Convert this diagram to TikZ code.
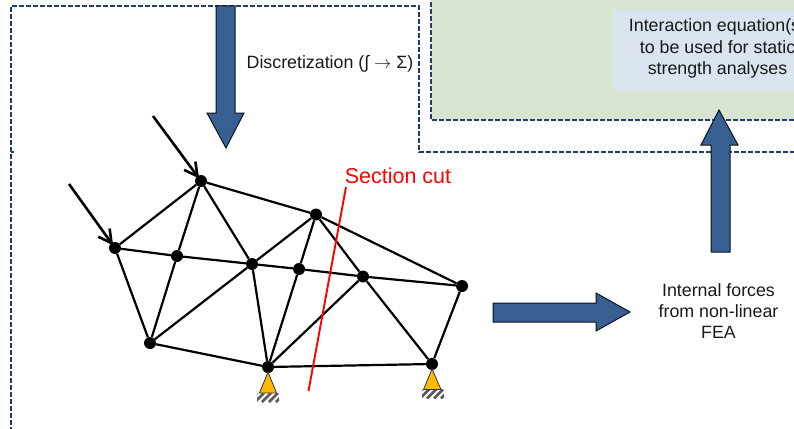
\documentclass[tikz,border=0pt]{standalone}
\usepackage{fontspec}
\setmainfont{Liberation Sans}
\usetikzlibrary{arrows.meta}
\definecolor{dashblue}{HTML}{1F3F73}
\definecolor{arrowblue}{HTML}{375F92}
\definecolor{greenbg}{HTML}{D8E5D3}
\definecolor{bluebg}{HTML}{DAE4F0}
\definecolor{support}{HTML}{FFB900}
\definecolor{redcut}{HTML}{FF0000}
\tikzset{
  joint/.style={circle,fill=black,inner sep=0pt,minimum size=12pt},
  member/.style={black,line width=2.2pt},
  force/.style={black,line width=2.6pt,-{Straight Barb[length=13pt,width=14pt,line width=2.6pt]},shorten >=-3pt},
  dashbox/.style={dashblue,line width=1.35pt,dash pattern=on 5pt off 2pt},
  bigarrow/.style={draw=black!80!arrowblue,line width=1pt,fill=arrowblue},
  support/.style={draw=black!80,line width=.8pt,fill=support},
  stripe/.style={black!65,line width=2.6pt},
  label/.style={align=center,text=black!90,font=\fontsize{17.8}{21.4}\selectfont,inner sep=0pt},
  cut/.style={redcut,line width=1.9pt},
}
\newcommand{\hatchbar}[2]{%
  \begin{scope}
    \clip (#1-11,#2) rectangle (#1+11,#2+9);
    \foreach \d in {-14,-7,0,7,14,21}
      \draw[stripe] (#1+\d-6,#2+9) -- (#1+\d+3,#2);
  \end{scope}}
\begin{document}
\begin{tikzpicture}[x=1pt,y=-1pt]
\useasboundingbox (0,0) rectangle (794,428);
\clip (0,0) rectangle (794,428);
% backgrounds
\fill[greenbg] (431,-5) rectangle (800,120);
\draw[dashbox] (431,-5) -- (431,120) -- (800,120);
\fill[bluebg] (613,10) rectangle (800,90);
\draw[dashbox] (11,432) -- (11,6) -- (419,6) -- (419,152) -- (800,152);
\draw[dashbox] (11,152) -- (14,152);
% block arrows
\draw[bigarrow] (216,6) -- (235,6) -- (235,113) -- (244,113) -- (226,148) -- (207,113) -- (216,113) -- cycle;
\draw[bigarrow] (711,252) -- (730,252) -- (730,145) -- (738,145) -- (719,110) -- (701,145) -- (711,145) -- cycle;
\draw[bigarrow] (493,303) -- (596,303) -- (596,293) -- (630,312) -- (596,331) -- (596,322) -- (493,322) -- cycle;
% labels
\node[label,anchor=center] (disc) at (330,63.5) {Discretization (∫ $\rightarrow$ Σ)};
\node[label] (inter) at (717.5,48.5) {Interaction equation(s)\\to be used for static\\strength analyses};
\node[label] (fea) at (718.5,311) {Internal forces\\from non-linear\\FEA};
\node[align=center,text=redcut,font=\fontsize{21.5}{24}\selectfont,inner sep=0pt] (sec) at (398,176) {Section cut};
% joints
\node[joint] (A) at (115,248) {};
\node[joint] (B) at (201,181) {};
\node[joint] (C) at (316,214.5) {};
\node[joint] (D) at (462,286) {};
\node[joint] (E) at (177,256) {};
\node[joint] (F) at (252,264) {};
\node[joint] (G) at (299,269) {};
\node[joint] (H) at (363,276.5) {};
\node[joint] (I) at (150,343) {};
\node[joint] (J) at (268,367) {};
\node[joint] (K) at (432,364) {};
% free ends
\coordinate (f1) at (153,116);
\coordinate (f2) at (69,184);
\coordinate (c1) at (346,187);
\coordinate (c2) at (308.5,391);
% supports
\hatchbar{268}{393}
\hatchbar{433}{389.5}
\draw[support] (268,372) -- (276.5,393) -- (259.5,393) -- cycle;
\draw[support] (432,369) -- (441,389.5) -- (423.5,389.5) -- cycle;
% members
\foreach \a/\b in {A/B,B/C,C/D,A/E,E/F,F/G,G/H,H/D,A/I,I/J,J/K,K/D,K/H,H/C,C/G,G/J,C/F,F/B,F/J,B/E,E/I,F/I,J/H}
  \draw[member] (\a) -- (\b);
\draw[force] (f1) -- (B);
\draw[force] (f2) -- (A);
\draw[cut] (c1) -- (c2);
\end{tikzpicture}
\end{document}
